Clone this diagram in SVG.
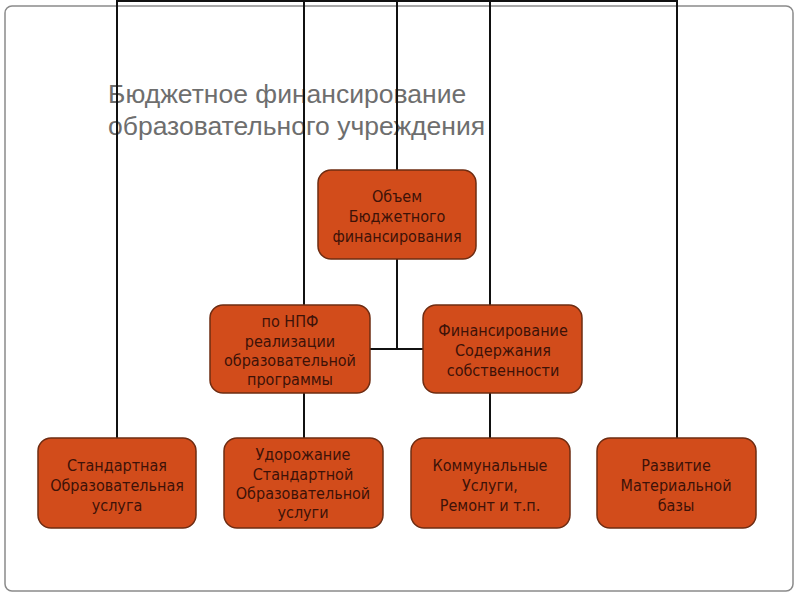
<svg xmlns="http://www.w3.org/2000/svg" width="800" height="600" viewBox="0 0 800 600">
<style>
.frame{fill:#fff;stroke:#8a8a8a;stroke-width:1.5}
.title{font-family:"Liberation Sans",Arial,sans-serif;font-size:26.5px;fill:#6e6e6e}
.box{fill:#D24C1B;stroke:#6e2c12;stroke-width:1.5}
.lbl{font-family:"DejaVu Sans Condensed","DejaVu Sans",sans-serif;font-size:16px;fill:#3d1208;text-anchor:middle}
.ln{stroke:#111;stroke-width:2;fill:none}
</style>
<rect class="frame" x="5" y="6" width="788" height="585" rx="7"/>
<g id="title">
<text class="title" x="108" y="103">Бюджетное финансирование</text>
<text class="title" x="108" y="135">образовательного учреждения</text>
</g>
<g id="connectors">
<line class="ln" x1="117" y1="1" x2="677" y2="1"/>
<line class="ln" x1="117" y1="0" x2="117" y2="439"/>
<line class="ln" x1="304" y1="0" x2="304" y2="306"/>
<line class="ln" x1="397" y1="0" x2="397" y2="171"/>
<line class="ln" x1="490" y1="0" x2="490" y2="306"/>
<line class="ln" x1="677" y1="0" x2="677" y2="439"/>
<line class="ln" x1="397" y1="259" x2="397" y2="349"/>
<line class="ln" x1="370" y1="349" x2="424" y2="349"/>
<line class="ln" x1="304" y1="393" x2="304" y2="439"/>
<line class="ln" x1="490" y1="393" x2="490" y2="439"/>
</g>
<g id="n-volume">
<rect class="box" x="318" y="170" width="158" height="89" rx="13"/>
<text class="lbl"><tspan x="397" y="202">Объем</tspan><tspan x="397" y="222">Бюджетного</tspan><tspan x="397" y="242">финансирования</tspan></text>
</g>
<g id="n-npf">
<rect class="box" x="210" y="305" width="160" height="88" rx="13"/>
<text class="lbl"><tspan x="290" y="327">по НПФ</tspan><tspan x="290" y="347">реализации</tspan><tspan x="290" y="366">образовательной</tspan><tspan x="290" y="385">программы</tspan></text>
</g>
<g id="n-maint">
<rect class="box" x="423" y="305" width="159" height="88" rx="13"/>
<text class="lbl"><tspan x="503" y="336">Финансирование</tspan><tspan x="503" y="356">Содержания</tspan><tspan x="503" y="376">собственности</tspan></text>
</g>
<g id="n-standard">
<rect class="box" x="38" y="438" width="158" height="90" rx="13"/>
<text class="lbl"><tspan x="117" y="471">Стандартная</tspan><tspan x="117" y="491">Образовательная</tspan><tspan x="117" y="511">услуга</tspan></text>
</g>
<g id="n-rise">
<rect class="box" x="224" y="438" width="159" height="90" rx="13"/>
<text class="lbl"><tspan x="303" y="460">Удорожание</tspan><tspan x="303" y="480">Стандартной</tspan><tspan x="303" y="499">Образовательной</tspan><tspan x="303" y="518">услуги</tspan></text>
</g>
<g id="n-utility">
<rect class="box" x="411" y="438" width="159" height="90" rx="13"/>
<text class="lbl"><tspan x="490" y="471">Коммунальные</tspan><tspan x="490" y="491">Услуги,</tspan><tspan x="490" y="511">Ремонт и т.п.</tspan></text>
</g>
<g id="n-base">
<rect class="box" x="597" y="438" width="159" height="90" rx="13"/>
<text class="lbl"><tspan x="676" y="471">Развитие</tspan><tspan x="676" y="491">Материальной</tspan><tspan x="676" y="511">базы</tspan></text>
</g>
</svg>
